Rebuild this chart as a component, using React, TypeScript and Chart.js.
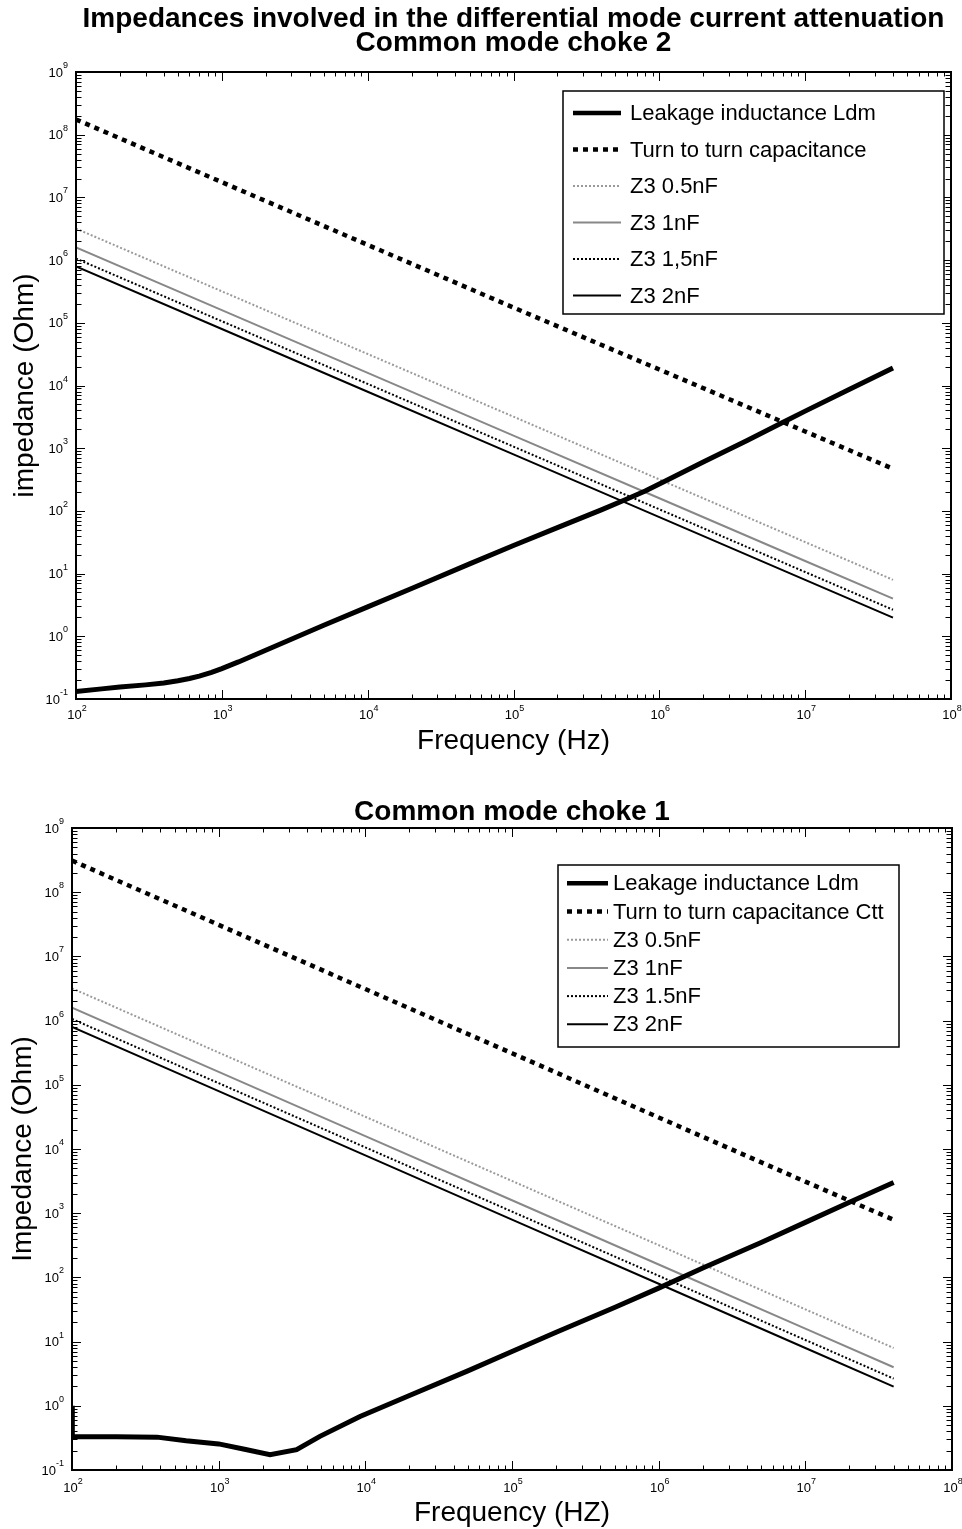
import React, { useEffect, useRef } from 'react';
import { Chart, registerables } from 'chart.js';

Chart.register(...registerables);

const FONT = '"Liberation Sans", Arial, Helvetica, sans-serif';

// ---- tick labels (powers of ten) ----
const xTickExps = ['2', '3', '4', '5', '6', '7', '8'];
const yTickExps = ['-1', '0', '1', '2', '3', '4', '5', '6', '7', '8', '9'];

// ---- legend labels ----
const labelsTop = ['Leakage inductance Ldm', 'Turn to turn capacitance', 'Z3 0.5nF', 'Z3 1nF', 'Z3 1,5nF', 'Z3 2nF'];
const labelsBottom = ['Leakage inductance Ldm', 'Turn to turn capacitance Ctt', 'Z3 0.5nF', 'Z3 1nF', 'Z3 1.5nF', 'Z3 2nF'];

// ---- shared Z3 capacitor impedance lines (Ohm) ----
const freqZ3 = [100, 1e3, 1e4, 1e5, 1e6, 1e7, 4e7];
const z3_05nF = [3.18e6, 3.18e5, 3.18e4, 3180, 318, 31.8, 7.96];
const z3_1nF = [1.59e6, 1.59e5, 1.59e4, 1590, 159, 15.9, 3.98];
const z3_15nF = [1.06e6, 1.06e5, 1.06e4, 1060, 106, 10.6, 2.65];
const z3_2nF = [7.96e5, 7.96e4, 7.96e3, 796, 79.6, 7.96, 1.99];

// ---- Common mode choke 2 (top) ----
const freqLdm2 = [100, 150, 200, 300, 400, 500, 600, 700, 850, 1000, 1300, 2000, 5000, 1e4, 2e4, 5e4, 1e5, 2e5, 4e5, 6e5, 8e5, 1.1e6, 2e6, 4e6, 7e6, 1e7, 2e7, 4e7];
const ldm2 = [0.132, 0.145, 0.155, 0.168, 0.18, 0.195, 0.212, 0.232, 0.265, 0.305, 0.39, 0.6, 1.5, 2.95, 5.8, 14.3, 28, 54, 104, 155, 208, 300, 600, 1330, 2570, 3900, 8600, 19000];
const freqCtt2 = [100, 1e3, 1e4, 1e5, 1e6, 1e7, 4e7];
const ctt2 = [1.75e8, 1.75e7, 1.75e6, 1.75e5, 1.8e4, 1.85e3, 470];

// ---- Common mode choke 1 (bottom) ----
const freqLdm1 = [100, 100.5, 200, 380, 600, 1000, 1500, 2240, 3400, 4900, 9200, 2e4, 5e4, 1e5, 2e5, 5e5, 1e6, 2e6, 5e6, 1e7, 2e7, 4e7];
const ldm1 = [1.0, 0.33, 0.33, 0.325, 0.285, 0.255, 0.21, 0.173, 0.207, 0.334, 0.68, 1.45, 3.5, 7, 14, 34, 68, 140, 350, 720, 1480, 3000];
const freqCtt1 = [100, 1e3, 1e4, 1e5, 1e6, 1e7, 4e7];
const ctt1 = [3.1e8, 3.1e7, 3.1e6, 3.1e5, 3.1e4, 3.1e3, 790];

const pts = (xs: number[], ys: number[]) => xs.map((x, i) => ({ x, y: ys[i] }));

const STYLES = [
  { borderColor: '#000000', borderWidth: 5, borderDash: [] as number[] },
  { borderColor: '#000000', borderWidth: 4.5, borderDash: [5, 5] },
  { borderColor: '#9a9a9a', borderWidth: 2, borderDash: [2, 2] },
  { borderColor: '#888888', borderWidth: 2, borderDash: [] as number[] },
  { borderColor: '#000000', borderWidth: 2, borderDash: [2, 2] },
  { borderColor: '#000000', borderWidth: 2, borderDash: [] as number[] },
];
const LEGEND_WIDTHS = [4.5, 4.5, 2, 2, 2, 2];

function makeDatasets(labels: string[], series: { x: number; y: number }[][]) {
  return series.map((data, i) => ({
    label: labels[i],
    data,
    borderColor: STYLES[i].borderColor,
    borderWidth: STYLES[i].borderWidth,
    borderDash: STYLES[i].borderDash,
    pointRadius: 0,
    fill: false,
    tension: 0,
  }));
}

function drawPow(ctx: CanvasRenderingContext2D, exp: string, x: number, y: number, align: 'right' | 'center', raise: number) {
  ctx.font = `13px ${FONT}`;
  const wb = ctx.measureText('10').width;
  ctx.font = `9px ${FONT}`;
  const we = ctx.measureText(exp).width;
  const total = wb + we;
  const x0 = align === 'right' ? x - total : x - total / 2;
  ctx.textAlign = 'left';
  ctx.textBaseline = 'alphabetic';
  ctx.font = `13px ${FONT}`;
  ctx.fillText('10', x0, y);
  ctx.font = `9px ${FONT}`;
  ctx.fillText(exp, x0 + wb, y - raise);
}

const matlabPlugin = {
  id: 'matlabAxes',
  afterDraw(chart: any) {
    const cfg = chart.options.plugins.matlabAxes;
    const ctx: CanvasRenderingContext2D = chart.ctx;
    const ca = chart.chartArea;
    const xs = chart.scales.x;
    const ys = chart.scales.y;
    ctx.save();
    ctx.fillStyle = '#000';
    ctx.strokeStyle = '#000';
    ctx.setLineDash([]);

    // ticks
    ctx.lineWidth = 1;
    ctx.beginPath();
    for (let e = 2; e <= 8; e++) {
      for (let m = 1; m <= 9; m++) {
        const v = m * Math.pow(10, e);
        if (v > 1e8 * 1.0001) break;
        const px = Math.round(xs.getPixelForValue(v)) + 0.5;
        const len = m === 1 ? 9 : 4.5;
        ctx.moveTo(px, ca.bottom);
        ctx.lineTo(px, ca.bottom - len);
        ctx.moveTo(px, ca.top);
        ctx.lineTo(px, ca.top + len);
      }
    }
    for (let e = -1; e <= 9; e++) {
      for (let m = 1; m <= 9; m++) {
        const v = m * Math.pow(10, e);
        if (v > 1e9 * 1.0001) break;
        const py = Math.round(ys.getPixelForValue(v)) + 0.5;
        const len = m === 1 ? 9 : 5.5;
        ctx.moveTo(ca.left, py);
        ctx.lineTo(ca.left + len, py);
        ctx.moveTo(ca.right, py);
        ctx.lineTo(ca.right - len, py);
      }
    }
    ctx.stroke();

    // box
    ctx.lineWidth = 2;
    ctx.strokeRect(ca.left, ca.top, ca.right - ca.left, ca.bottom - ca.top);

    // tick labels
    xTickExps.forEach((ex) => {
      const px = xs.getPixelForValue(Math.pow(10, Number(ex)));
      drawPow(ctx, ex, px + 1, ca.bottom + cfg.xLabelOffset, 'center', 8);
    });
    yTickExps.forEach((ex) => {
      const py = ys.getPixelForValue(Math.pow(10, Number(ex)));
      drawPow(ctx, ex, ca.left - 8, py + 4.5, 'right', 8.5);
    });

    // titles
    ctx.textAlign = 'center';
    ctx.textBaseline = 'alphabetic';
    ctx.font = `bold 28px ${FONT}`;
    const cx = (ca.left + ca.right) / 2;
    cfg.titles.forEach((t: any) => ctx.fillText(t.text, cx, t.y));

    ctx.font = `28px ${FONT}`;
    ctx.fillText(cfg.xTitle, cx, ca.bottom + cfg.xTitleOffset);

    ctx.save();
    ctx.translate(cfg.yTitleX, (ca.top + ca.bottom) / 2);
    ctx.rotate(-Math.PI / 2);
    ctx.font = `28px ${FONT}`;
    ctx.textAlign = 'center';
    ctx.fillText(cfg.yTitle, 0, 0);
    ctx.restore();

    // legend
    const lg = cfg.legend;
    ctx.fillStyle = '#fff';
    ctx.fillRect(lg.x, lg.y, lg.w, lg.h);
    ctx.lineWidth = 1.5;
    ctx.strokeStyle = '#000';
    ctx.strokeRect(lg.x, lg.y, lg.w, lg.h);
    chart.data.datasets.forEach((ds: any, i: number) => {
      const yy = lg.row0 + i * lg.rowGap;
      ctx.save();
      ctx.strokeStyle = ds.borderColor;
      ctx.lineWidth = LEGEND_WIDTHS[i];
      ctx.setLineDash(ds.borderDash || []);
      ctx.beginPath();
      ctx.moveTo(lg.lineX0, yy);
      ctx.lineTo(lg.lineX1, yy);
      ctx.stroke();
      ctx.restore();
      ctx.fillStyle = '#000';
      ctx.font = `22px ${FONT}`;
      ctx.textAlign = 'left';
      ctx.textBaseline = 'middle';
      ctx.fillText(ds.label, lg.textX, yy + 1);
    });
    ctx.restore();
  },
};

type Cfg = {
  height: number;
  padding: { left: number; right: number; top: number; bottom: number };
  datasets: any[];
  plugin: any;
};

const topCfg: Cfg = {
  height: 765,
  padding: { left: 76, right: 11, top: 72, bottom: 66 },
  datasets: makeDatasets(labelsTop, [
    pts(freqLdm2, ldm2),
    pts(freqCtt2, ctt2),
    pts(freqZ3, z3_05nF),
    pts(freqZ3, z3_1nF),
    pts(freqZ3, z3_15nF),
    pts(freqZ3, z3_2nF),
  ]),
  plugin: {
    titles: [
      { text: 'Impedances involved in the differential mode current attenuation', y: 27 },
      { text: 'Common mode choke 2', y: 51 },
    ],
    xTitle: 'Frequency (Hz)',
    xTitleOffset: 50,
    xLabelOffset: 20,
    yTitle: 'impedance (Ohm)',
    yTitleX: 33,
    legend: { x: 563, y: 91, w: 381, h: 223, row0: 113, rowGap: 36.5, lineX0: 573, lineX1: 621, textX: 630 },
  },
};

const bottomCfg: Cfg = {
  height: 764,
  padding: { left: 72, right: 10, top: 63, bottom: 59 },
  datasets: makeDatasets(labelsBottom, [
    pts(freqLdm1, ldm1),
    pts(freqCtt1, ctt1),
    pts(freqZ3, z3_05nF),
    pts(freqZ3, z3_1nF),
    pts(freqZ3, z3_15nF),
    pts(freqZ3, z3_2nF),
  ]),
  plugin: {
    titles: [{ text: 'Common mode choke 1', y: 55 }],
    xTitle: 'Frequency (HZ)',
    xTitleOffset: 51,
    xLabelOffset: 22,
    yTitle: 'Impedance (Ohm)',
    yTitleX: 31,
    legend: { x: 558, y: 100, w: 341, h: 182, row0: 118.3, rowGap: 28.2, lineX0: 567, lineX1: 608, textX: 613 },
  },
};

function ChokeChart({ cfg }: { cfg: Cfg }) {
  const ref = useRef<HTMLCanvasElement>(null);
  useEffect(() => {
    if (!ref.current) return;
    const chart = new Chart(ref.current, {
      type: 'line',
      data: { datasets: cfg.datasets },
      plugins: [matlabPlugin],
      options: {
        responsive: false,
        animation: false,
        events: [],
        layout: { padding: cfg.padding },
        plugins: {
          legend: { display: false },
          tooltip: { enabled: false },
          title: { display: false },
          // @ts-ignore
          matlabAxes: cfg.plugin,
        },
        scales: {
          x: { type: 'logarithmic', min: 100, max: 1e8, display: false },
          y: { type: 'logarithmic', min: 0.1, max: 1e9, display: false },
        },
      } as any,
    });
    return () => chart.destroy();
  }, [cfg]);
  return <canvas ref={ref} width={962} height={cfg.height} style={{ display: 'block' }} />;
}

export default function App() {
  return (
    <div style={{ position: 'absolute', left: 0, top: 0, width: 962, height: 1529, background: '#fff' }}>
      <ChokeChart cfg={topCfg} />
      <ChokeChart cfg={bottomCfg} />
    </div>
  );
}
